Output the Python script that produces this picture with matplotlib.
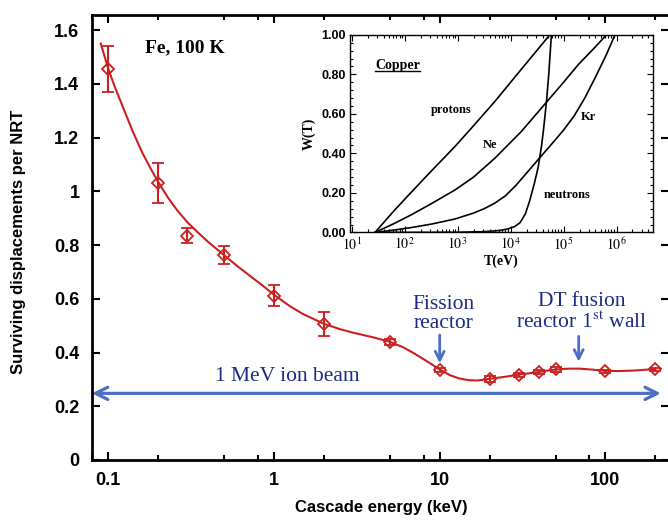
import numpy as np
import matplotlib
matplotlib.use("Agg")
import matplotlib.pyplot as plt
from matplotlib.ticker import LogLocator, FixedLocator, MultipleLocator, FuncFormatter, NullFormatter

plt.rcParams['font.family'] = ['Liberation Sans', 'DejaVu Sans']
plt.rcParams['mathtext.fontset'] = 'stix'

# main data: surviving displacements (Fe, 100 K)
energy = [0.1, 0.2, 0.3, 0.5, 1, 2, 5, 10, 20, 30, 40, 50, 100, 200]
surv = [1.455, 1.032, 0.835, 0.763, 0.612, 0.506, 0.44, 0.335, 0.302, 0.317, 0.327, 0.337, 0.33, 0.338]
surv_err = [0.087, 0.074, 0.028, 0.032, 0.04, 0.043, 0.012, 0.008, 0.012, 0.008, 0.008, 0.008, 0.006, 0.006]

# fitted curve
curve_x = [0.09, 0.1, 0.11, 0.125, 0.14, 0.16, 0.18, 0.2, 0.23, 0.26, 0.3, 0.35, 0.4,
           0.5, 0.6, 0.7, 0.85, 1, 1.25, 1.5, 2, 2.5, 3, 4, 5, 6, 7, 8.5, 10, 11.5,
           13, 15, 17, 20, 25, 30, 35, 40, 45, 50, 60, 70, 85, 100, 120, 150, 175, 200]
curve_y = [1.55, 1.455, 1.385, 1.3, 1.225, 1.145, 1.085, 1.035, 0.975, 0.93, 0.885,
           0.845, 0.812, 0.762, 0.722, 0.69, 0.65, 0.615, 0.572, 0.543, 0.507, 0.487,
           0.474, 0.456, 0.44, 0.42, 0.397, 0.365, 0.337, 0.316, 0.304, 0.297, 0.296,
           0.302, 0.31, 0.318, 0.323, 0.328, 0.333, 0.337, 0.34, 0.34, 0.336, 0.332,
           0.331, 0.333, 0.336, 0.338]

# inset: W(T) for copper, x given as log10(T / eV)
protons_logT = [1.44, 1.8, 2.13, 2.5, 2.95, 3.3, 3.70, 4.2, 4.74]
protons_W = [0.0, 0.11, 0.205, 0.31, 0.435, 0.54, 0.662, 0.825, 1.0]
ne_logT = [1.44, 1.8, 2.13, 2.5, 2.95, 3.3, 3.70, 4.2, 4.68, 5.0, 5.28, 5.55, 5.81]
ne_W = [0.0, 0.045, 0.09, 0.145, 0.215, 0.28, 0.375, 0.51, 0.66, 0.76, 0.85, 0.925, 1.0]
kr_logT = [1.44, 1.8, 2.13, 2.5, 2.95, 3.3, 3.5, 3.7, 3.9, 4.1, 4.3, 4.55, 4.8, 5.0,
           5.2, 5.4, 5.6, 5.8, 5.97]
kr_W = [0.0, 0.012, 0.025, 0.042, 0.068, 0.098, 0.12, 0.148, 0.185, 0.238, 0.3, 0.378,
        0.455, 0.518, 0.59, 0.68, 0.785, 0.895, 1.0]
neutrons_logT = [1.44, 3.0, 3.5, 3.8, 3.95, 4.08, 4.18, 4.28, 4.36, 4.45, 4.52, 4.58,
                 4.62, 4.68, 4.72, 4.77]
neutrons_W = [0.0, 0.001, 0.004, 0.01, 0.018, 0.03, 0.05, 0.095, 0.16, 0.25, 0.33,
              0.43, 0.517, 0.67, 0.8, 1.0]

red = '#cc2020'
navy = '#1c2a85'
arrow_blue = '#4a70bf'

fig = plt.figure(figsize=(6.68, 5.2), dpi=100)
ax = fig.add_axes([0.1377, 0.1154, 0.8638, 0.8556])

ax.plot(curve_x, curve_y, color=red, lw=1.5, zorder=3)
ax.errorbar(energy, surv, yerr=surv_err, fmt='D', ms=6, mfc='none', mec=red, mew=1.3,
            ecolor=red, elinewidth=1.5, capsize=4.5, capthick=1.5, zorder=4)

ax.set_xscale('log')
ax.set_xlim(0.0797, 242)
ax.set_ylim(0, 1.656)
ax.xaxis.set_major_locator(FixedLocator([0.1, 1, 10, 100]))
ax.xaxis.set_minor_locator(LogLocator(base=10, subs=[2, 5, 8]))
ax.xaxis.set_minor_formatter(NullFormatter())
ax.xaxis.set_major_formatter(FuncFormatter(lambda v, p: '{:g}'.format(v)))
ax.yaxis.set_major_locator(MultipleLocator(0.2))
ax.yaxis.set_major_formatter(FuncFormatter(lambda v, p: '{:g}'.format(round(v, 1))))
ax.tick_params(which='both', direction='in', top=True, right=True, width=1.5)
ax.tick_params(which='major', length=6, labelsize=13, pad=9)
ax.tick_params(which='minor', length=3.5)
for lab in ax.get_xticklabels() + ax.get_yticklabels():
    lab.set_fontweight('bold')
for s in ax.spines.values():
    s.set_linewidth(2)

ax.set_xlabel('Cascade energy (keV)', fontsize=12, fontweight='bold')
ax.set_ylabel('Surviving displacements per NRT', fontsize=12, fontweight='bold')
ax.xaxis.set_label_coords(0.502, -0.09)
ax.yaxis.set_label_coords(-0.114, 0.49)

ax.text(0.166, 1.533, 'Fe, 100 K', family='Liberation Serif', fontsize=14,
        fontweight='bold', va='center', ha='left')

serif = dict(family='Liberation Serif', fontsize=15.5, color=navy, ha='center', va='center')
ax.text(1.2, 0.31, '1 MeV ion beam', **serif)
ax.text(10.5, 0.543, 'Fission\nreactor', linespacing=1.05, **serif)
ax.text(71.6, 0.55, 'DT fusion\nreactor 1$^{\\rm st}$ wall', linespacing=1.05, **serif)

ax.annotate('', xy=(216, 0.248), xytext=(0.0797, 0.248),
            arrowprops=dict(arrowstyle='<->', color=arrow_blue, lw=2.3,
                            mutation_scale=22, shrinkA=0, shrinkB=0), annotation_clip=False)
ax.annotate('', xy=(10, 0.36), xytext=(10, 0.465),
            arrowprops=dict(arrowstyle='->', color=arrow_blue, lw=2.0,
                            mutation_scale=16, shrinkA=0, shrinkB=0))
ax.annotate('', xy=(69, 0.366), xytext=(69, 0.46),
            arrowprops=dict(arrowstyle='->', color=arrow_blue, lw=2.0,
                            mutation_scale=16, shrinkA=0, shrinkB=0))

# inset
ins = fig.add_axes([0.524, 0.553, 0.453, 0.380])
for lt, w in [(protons_logT, protons_W), (ne_logT, ne_W), (kr_logT, kr_W),
              (neutrons_logT, neutrons_W)]:
    ins.plot(np.power(10.0, lt), w, color='black', lw=1.2)
ins.set_xscale('log')
ins.set_xlim(9.3, 4.8e6)
ins.set_ylim(0, 1)
ins.xaxis.set_major_locator(FixedLocator([1e1, 1e2, 1e3, 1e4, 1e5, 1e6]))
ins.xaxis.set_minor_locator(LogLocator(base=10, subs=np.arange(2, 10)))
ins.xaxis.set_minor_formatter(NullFormatter())
ins.xaxis.set_major_formatter(FuncFormatter(lambda v, p: '$10^{%d}$' % round(np.log10(v))))
ins.yaxis.set_major_locator(MultipleLocator(0.2))
ins.yaxis.set_minor_locator(MultipleLocator(0.04))
ins.yaxis.set_major_formatter(FuncFormatter(lambda v, p: '%.2f' % v))
ins.tick_params(which='both', direction='in', top=True, right=True, width=0.8)
ins.tick_params(which='major', length=4, labelsize=9, pad=3)
ins.tick_params(which='minor', length=2)
for lab in ins.get_yticklabels():
    lab.set_fontweight('bold')
for lab in ins.get_xticklabels():
    lab.set_fontsize(10)
for s in ins.spines.values():
    s.set_linewidth(1.0)
ins.set_xlabel('T(eV)', family='Liberation Serif', fontsize=10, fontweight='bold', labelpad=1)
ins.set_ylabel('W(T)', family='Liberation Serif', fontsize=10, fontweight='bold', labelpad=4)

lbl = dict(family='Liberation Serif', fontsize=9, fontweight='bold', ha='center', va='center')
cu = ins.text(10 ** 1.44, 0.847, 'Copper', family='Liberation Serif', fontsize=10,
              fontweight='bold', ha='left', va='center')
ins.text(10 ** 2.885, 0.619, 'protons', **lbl)
ins.text(10 ** 3.61, 0.44, 'Ne', **lbl)
ins.text(10 ** 5.46, 0.585, 'Kr', **lbl)
ins.text(10 ** 5.06, 0.187, 'neutrons', **lbl)

# underline "Copper"
fig.canvas.draw()
bb = cu.get_window_extent().transformed(ins.transAxes.inverted())
ins.plot([bb.x0, bb.x1], [bb.y0 + 0.005, bb.y0 + 0.005], transform=ins.transAxes,
         color='black', lw=1.0)

fig.savefig('out.png', dpi=100)
